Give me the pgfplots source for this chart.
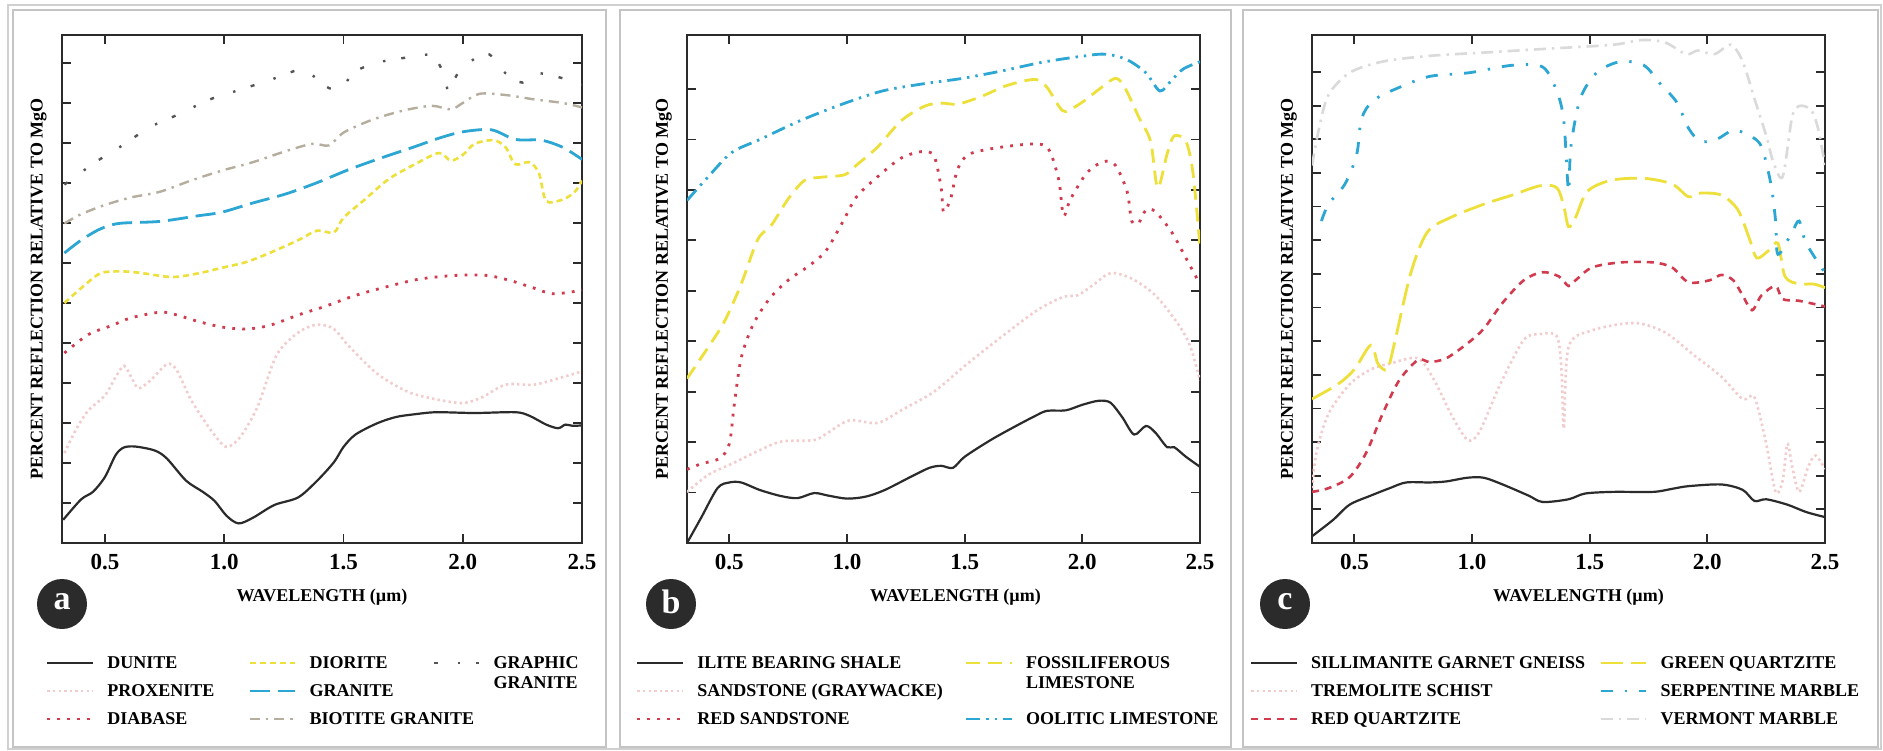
\documentclass[border=0pt]{standalone}
\usepackage{fontspec}
\setmainfont{Liberation Serif}
\usepackage{pgfplots}
\pgfplotsset{compat=1.18}
\definecolor{cblack}{HTML}{2B2B2B}
\definecolor{cpink}{HTML}{F2CCCC}
\definecolor{cred}{HTML}{D23A4E}
\definecolor{cyellow}{HTML}{EEE03A}
\definecolor{ccyan}{HTML}{2CA6D2}
\definecolor{cbeige}{HTML}{B5AE9E}
\definecolor{cgray}{HTML}{555555}
\definecolor{clight}{HTML}{DADADA}
\definecolor{cframe}{HTML}{C4C4C4}
\pgfplotsset{
  panel/.style={
    scale only axis, height=254pt,
    xmin=0.32, xmax=2.5, ymin=0,
    xtick={0.5,1.0,1.5,2.0,2.5}, xticklabels={0.5,1.0,1.5,2.0,2.5},
    yticklabel=\empty,
    tick align=inside, major tick length=4.5pt,
    tick style={line width=0.9pt, color=cblack},
    axis line style={line width=0.9pt, color=cblack},
    xticklabel style={font=\bfseries\fontsize{11.5}{12}\selectfont, anchor=center, yshift=-9.5pt},
    xlabel={WAVELENGTH (µm)},
    xlabel style={font=\bfseries\fontsize{9}{10}\selectfont, at={(axis description cs:0.5,0)}, anchor=center, yshift=-27pt},
    ylabel={PERCENT REFLECTION RELATIVE TO MgO},
    ylabel style={font=\bfseries\fontsize{9}{10}\selectfont, at={(axis description cs:-0.045,0.5)}, anchor=center},
    legend cell align=left, transpose legend, legend columns=3,
    legend image code/.code={\draw[##1] (0cm,0cm) -- (0.8cm,0cm);},
    legend style={draw=none, fill=none, inner sep=0pt, outer sep=0pt,
      at={(axis description cs:0,0)}, anchor=north west, yshift=-54.5pt,
      font=\bfseries\fontsize{9}{10}\selectfont, row sep=3pt,
      nodes={inner sep=1pt, text height=7pt, text depth=2pt},
      /tikz/every odd column/.append style={column sep=5.5pt}},
    every axis plot/.append style={smooth, tension=0.5},
  },
  blackline/.style={cblack, line width=1.1pt, solid},
  pinkdot/.style={cpink, line width=1.3pt, dash pattern=on 1.2pt off 1.6pt},
  reddot/.style={cred, line width=1.4pt, dash pattern=on 1.4pt off 3.6pt},
  reddash/.style={cred, line width=1.3pt, dash pattern=on 3.5pt off 3pt},
  yellowdash/.style={cyellow, line width=1.3pt, dash pattern=on 3pt off 2pt},
  yellowmid/.style={cyellow, line width=1.4pt, dash pattern=on 7pt off 4pt},
  yellowlong/.style={cyellow, line width=1.4pt, dash pattern=on 11pt off 4pt},
  cyanlong/.style={ccyan, line width=1.4pt, dash pattern=on 10pt off 4pt},
  cyanddd/.style={ccyan, line width=1.4pt, dash pattern=on 7pt off 3pt on 1.2pt off 3pt on 1.2pt off 3pt},
  cyandd/.style={ccyan, line width=1.4pt, dash pattern=on 6pt off 6pt on 1.2pt off 6pt},
  beigedd/.style={cbeige, line width=1.2pt, dash pattern=on 5pt off 3pt on 1.2pt off 3pt},
  graysparse/.style={cgray, line width=1.2pt, dash pattern=on 2pt off 10pt on 1.2pt off 8pt},
  lightdd/.style={clight, line width=1.3pt, dash pattern=on 6pt off 3pt on 1.2pt off 3pt},
}
\begin{document}
\begin{tikzpicture}
\useasboundingbox (0,0) rectangle (941.5pt,-375pt);
\fill[white] (0,0) rectangle (941.5pt,-375pt);
\draw[cframe!80, line width=0.6pt] (4pt,-2.5pt) rectangle (940.5pt,-374.5pt);
\draw[cframe, line width=1pt] (6.5pt,-5pt) rectangle (303pt,-373.5pt);
\draw[cframe, line width=1pt] (310pt,-5pt) rectangle (615.5pt,-373.5pt);
\draw[cframe, line width=1pt] (621.5pt,-5pt) rectangle (939pt,-373.5pt);

% ---------------- panel a
\begin{axis}[panel, width=260pt, at={(31pt,-17.5pt)}, anchor=north west,
  ymax=12.7, ytick={1,...,12},
  legend style={xshift=-8pt, /tikz/column 2/.style={column sep=16pt}, /tikz/column 4/.style={column sep=18.5pt}}]
\addplot[blackline] coordinates {(0.325,0.58)(0.40,1.09)(0.45,1.28)(0.50,1.65)(0.545,2.2)(0.58,2.39)(0.63,2.41)(0.71,2.31)(0.76,2.11)(0.84,1.56)(0.91,1.28)(0.96,1.05)(1.01,0.68)(1.06,0.49)(1.12,0.63)(1.21,0.95)(1.31,1.14)(1.39,1.56)(1.46,2.02)(1.50,2.40)(1.55,2.71)(1.64,2.99)(1.72,3.15)(1.80,3.22)(1.89,3.27)(2.05,3.25)(2.22,3.27)(2.28,3.18)(2.35,2.96)(2.40,2.87)(2.43,2.96)(2.46,2.93)(2.50,2.94)};
\addlegendentry{DUNITE}
\addplot[pinkdot] coordinates {(0.33,2.25)(0.38,2.85)(0.43,3.31)(0.50,3.69)(0.545,4.15)(0.58,4.43)(0.61,4.15)(0.64,3.87)(0.69,4.06)(0.76,4.47)(0.80,4.33)(0.86,3.59)(0.93,2.94)(0.99,2.48)(1.02,2.41)(1.07,2.67)(1.14,3.41)(1.22,4.70)(1.31,5.26)(1.39,5.46)(1.46,5.35)(1.52,4.94)(1.64,4.24)(1.77,3.78)(1.89,3.59)(2.00,3.50)(2.08,3.64)(2.18,3.96)(2.30,3.96)(2.42,4.15)(2.50,4.29)};
\addlegendentry{PROXENITE}
\addplot[reddot] coordinates {(0.33,4.75)(0.43,5.21)(0.53,5.44)(0.61,5.63)(0.73,5.77)(0.79,5.72)(0.89,5.54)(0.99,5.40)(1.09,5.35)(1.19,5.44)(1.32,5.72)(1.42,5.91)(1.55,6.19)(1.69,6.42)(1.82,6.60)(1.97,6.69)(2.10,6.69)(2.20,6.56)(2.30,6.37)(2.38,6.23)(2.50,6.32)};
\addlegendentry{DIABASE}
\addplot[yellowdash] coordinates {(0.33,6.0)(0.40,6.37)(0.48,6.74)(0.56,6.79)(0.64,6.76)(0.78,6.65)(0.89,6.74)(0.99,6.88)(1.09,7.02)(1.19,7.25)(1.31,7.57)(1.39,7.81)(1.46,7.76)(1.50,8.13)(1.59,8.59)(1.69,9.10)(1.80,9.47)(1.90,9.75)(1.95,9.56)(2.00,9.70)(2.05,9.98)(2.13,10.07)(2.18,9.89)(2.22,9.47)(2.28,9.52)(2.32,9.24)(2.35,8.55)(2.42,8.59)(2.47,8.78)(2.50,9.06)};
\addlegendentry{DIORITE}
\addplot[cyanlong] coordinates {(0.33,7.25)(0.40,7.57)(0.48,7.85)(0.56,7.99)(0.73,8.04)(0.89,8.18)(0.99,8.27)(1.12,8.50)(1.26,8.73)(1.39,9.01)(1.52,9.33)(1.65,9.61)(1.79,9.89)(1.90,10.12)(2.00,10.28)(2.12,10.33)(2.22,10.09)(2.33,10.07)(2.42,9.89)(2.50,9.59)};
\addlegendentry{GRANITE}
\addplot[beigedd] coordinates {(0.33,7.99)(0.40,8.22)(0.50,8.45)(0.61,8.64)(0.73,8.78)(0.86,9.06)(0.99,9.31)(1.12,9.52)(1.26,9.80)(1.37,9.98)(1.44,9.94)(1.50,10.26)(1.62,10.58)(1.75,10.81)(1.87,10.93)(1.95,10.84)(2.00,11.0)(2.07,11.23)(2.18,11.20)(2.30,11.09)(2.42,11.0)(2.50,10.89)};
\addlegendentry{\rlap{BIOTITE GRANITE}}
\addplot[graysparse] coordinates {(0.33,8.96)(0.46,9.52)(0.56,9.89)(0.69,10.4)(0.81,10.72)(0.94,11.09)(1.06,11.32)(1.19,11.57)(1.32,11.83)(1.39,11.6)(1.44,11.37)(1.49,11.37)(1.55,11.79)(1.65,12.02)(1.77,12.14)(1.87,12.19)(1.92,11.74)(1.94,11.32)(1.98,11.74)(2.05,12.11)(2.11,12.22)(2.18,11.74)(2.25,11.51)(2.31,11.74)(2.40,11.65)(2.50,11.46)};
\addlegendentry{\smash{\begin{tabular}[t]{@{}l@{}}GRAPHIC\\GRANITE\end{tabular}}}
\addlegendimage{empty legend}
\addlegendentry{}
\addlegendimage{empty legend}
\addlegendentry{}
\end{axis}

% ---------------- panel b
\begin{axis}[panel, width=256.5pt, at={(343.5pt,-17.5pt)}, anchor=north west,
  ymax=10.07, ytick={1,...,9},
  xlabel style={xshift=6pt},
  legend style={xshift=-25.5pt, /tikz/column 2/.style={column sep=10pt}}]
\addplot[blackline] coordinates {(0.32,0)(0.38,0.5)(0.45,1.09)(0.50,1.2)(0.55,1.2)(0.63,1.05)(0.72,0.93)(0.79,0.89)(0.86,0.99)(0.92,0.94)(1.00,0.88)(1.08,0.92)(1.16,1.05)(1.27,1.31)(1.35,1.49)(1.40,1.53)(1.45,1.49)(1.50,1.71)(1.61,2.04)(1.71,2.30)(1.80,2.52)(1.85,2.62)(1.93,2.63)(2.00,2.74)(2.07,2.82)(2.12,2.78)(2.17,2.49)(2.22,2.15)(2.27,2.32)(2.31,2.19)(2.36,1.90)(2.39,1.90)(2.44,1.71)(2.50,1.51)};
\addlegendentry{ILITE BEARING SHALE}
\addplot[pinkdot] coordinates {(0.32,1.01)(0.41,1.35)(0.51,1.57)(0.62,1.82)(0.72,2.01)(0.86,2.04)(0.92,2.19)(1.01,2.43)(1.13,2.38)(1.23,2.63)(1.37,3.0)(1.50,3.51)(1.66,4.10)(1.81,4.62)(1.92,4.88)(1.98,4.91)(2.05,5.13)(2.12,5.35)(2.21,5.24)(2.31,4.91)(2.41,4.32)(2.46,3.88)(2.50,3.22)};
\addlegendentry{SANDSTONE (GRAYWACKE)}
\addplot[reddot] coordinates {(0.32,1.46)(0.38,1.57)(0.46,1.68)(0.50,1.97)(0.52,2.71)(0.55,3.66)(0.60,4.32)(0.67,4.84)(0.75,5.21)(0.84,5.50)(0.91,5.79)(0.98,6.35)(1.04,6.86)(1.13,7.26)(1.23,7.63)(1.32,7.76)(1.37,7.67)(1.40,7.04)(1.41,6.57)(1.44,6.82)(1.47,7.41)(1.52,7.71)(1.66,7.85)(1.81,7.91)(1.86,7.78)(1.90,7.19)(1.92,6.49)(1.95,6.82)(2.02,7.34)(2.09,7.56)(2.14,7.49)(2.19,6.97)(2.21,6.38)(2.24,6.35)(2.27,6.60)(2.31,6.57)(2.38,6.16)(2.44,5.65)(2.50,5.13)};
\addlegendentry{RED SANDSTONE}
\addplot[yellowmid] coordinates {(0.32,3.26)(0.41,3.88)(0.48,4.40)(0.55,5.13)(0.62,6.01)(0.68,6.31)(0.75,6.82)(0.82,7.19)(0.89,7.25)(0.99,7.30)(1.04,7.49)(1.13,7.85)(1.23,8.37)(1.33,8.66)(1.40,8.72)(1.47,8.70)(1.57,8.85)(1.68,9.07)(1.80,9.19)(1.85,9.03)(1.90,8.66)(1.93,8.55)(2.00,8.74)(2.07,8.99)(2.14,9.21)(2.18,9.03)(2.24,8.44)(2.29,7.96)(2.32,7.04)(2.36,7.71)(2.39,8.07)(2.44,7.96)(2.47,7.34)(2.50,5.87)};
\addlegendentry{\smash{\begin{tabular}[t]{@{}l@{}}FOSSILIFEROUS\\LIMESTONE\end{tabular}}}
\addlegendimage{empty legend}
\addlegendentry{}
\addplot[cyanddd] coordinates {(0.32,6.79)(0.41,7.26)(0.51,7.74)(0.63,8.0)(0.80,8.37)(0.98,8.70)(1.15,8.96)(1.32,9.10)(1.49,9.21)(1.66,9.36)(1.83,9.53)(2.00,9.65)(2.10,9.69)(2.19,9.58)(2.27,9.32)(2.33,8.96)(2.38,9.18)(2.43,9.40)(2.50,9.54)};
\addlegendentry{OOLITIC LIMESTONE}
\end{axis}

% ---------------- panel c
\begin{axis}[panel, width=256.5pt, at={(656pt,-17.5pt)}, anchor=north west,
  ymax=15.1, ytick={1,...,14},
  xlabel style={xshift=5pt},
  legend style={xshift=-31pt, /tikz/column 2/.style={column sep=6pt}}]
\addplot[blackline] coordinates {(0.32,0.2)(0.41,0.69)(0.48,1.14)(0.57,1.41)(0.65,1.63)(0.72,1.80)(0.82,1.80)(0.89,1.83)(0.98,1.94)(1.05,1.94)(1.13,1.74)(1.24,1.41)(1.30,1.22)(1.41,1.30)(1.48,1.47)(1.60,1.52)(1.77,1.52)(1.85,1.61)(1.92,1.69)(2.06,1.74)(2.15,1.58)(2.20,1.25)(2.25,1.30)(2.34,1.14)(2.42,0.92)(2.50,0.77)};
\addlegendentry{SILLIMANITE GARNET GNEISS}
\addplot[pinkdot] coordinates {(0.32,1.63)(0.34,2.73)(0.39,3.84)(0.48,4.72)(0.57,5.16)(0.65,5.33)(0.77,5.49)(0.84,4.83)(0.91,3.84)(0.98,3.07)(1.03,3.29)(1.12,4.72)(1.22,6.04)(1.29,6.21)(1.36,6.15)(1.38,5.16)(1.39,3.40)(1.41,5.82)(1.51,6.32)(1.69,6.54)(1.82,6.26)(1.94,5.60)(2.06,4.94)(2.15,4.28)(2.20,4.33)(2.25,2.95)(2.29,1.52)(2.32,1.85)(2.34,2.95)(2.36,2.29)(2.39,1.52)(2.43,2.29)(2.46,2.6)(2.50,2.2)};
\addlegendentry{TREMOLITE SCHIST}
\addplot[reddash] coordinates {(0.32,1.52)(0.39,1.63)(0.48,1.96)(0.55,2.68)(0.62,3.84)(0.69,4.83)(0.77,5.44)(0.82,5.38)(0.89,5.49)(0.98,5.93)(1.05,6.37)(1.13,7.14)(1.22,7.81)(1.30,8.05)(1.37,7.92)(1.41,7.64)(1.44,7.81)(1.51,8.19)(1.63,8.34)(1.77,8.34)(1.85,8.19)(1.92,7.75)(2.01,7.81)(2.06,7.97)(2.11,7.81)(2.15,7.36)(2.19,6.92)(2.23,7.36)(2.29,7.64)(2.32,7.25)(2.39,7.20)(2.50,7.03)};
\addlegendentry{RED QUARTZITE}
\addplot[yellowlong] coordinates {(0.32,4.28)(0.43,4.72)(0.50,5.16)(0.57,5.88)(0.60,5.33)(0.64,5.16)(0.67,5.93)(0.74,8.03)(0.81,9.24)(0.91,9.68)(1.05,10.07)(1.17,10.34)(1.29,10.62)(1.36,10.56)(1.39,10.01)(1.41,9.40)(1.44,9.68)(1.49,10.45)(1.59,10.78)(1.73,10.84)(1.85,10.67)(1.92,10.29)(1.97,10.40)(2.06,10.34)(2.13,9.90)(2.18,9.02)(2.21,8.47)(2.26,8.69)(2.30,8.91)(2.33,7.92)(2.39,7.70)(2.45,7.70)(2.50,7.59)};
\addlegendentry{GREEN QUARTZITE}
\addplot[cyandd] coordinates {(0.36,9.57)(0.39,10.07)(0.46,10.67)(0.51,11.55)(0.53,12.60)(0.58,13.15)(0.69,13.54)(0.82,13.87)(0.99,13.98)(1.17,14.20)(1.30,14.15)(1.36,13.43)(1.39,12.55)(1.41,10.45)(1.42,11.78)(1.46,13.21)(1.53,13.98)(1.63,14.31)(1.73,14.20)(1.80,13.65)(1.87,13.10)(1.92,12.33)(1.97,11.94)(2.04,12.00)(2.11,12.27)(2.18,12.11)(2.23,11.78)(2.27,10.67)(2.29,9.57)(2.30,8.58)(2.36,9.24)(2.39,9.57)(2.42,8.91)(2.50,8.03)};
\addlegendentry{SERPENTINE MARBLE}
\addplot[lightdd] coordinates {(0.32,11.22)(0.35,12.33)(0.39,13.32)(0.48,13.98)(0.62,14.31)(0.82,14.48)(1.08,14.59)(1.34,14.70)(1.60,14.81)(1.72,14.95)(1.82,14.88)(1.91,14.53)(1.96,14.64)(2.03,14.53)(2.10,14.81)(2.15,14.31)(2.20,13.21)(2.25,12.11)(2.28,11.33)(2.32,10.89)(2.36,12.66)(2.39,12.99)(2.44,12.88)(2.47,12.33)(2.50,11.22)};
\addlegendentry{VERMONT MARBLE}
\end{axis}

\foreach \cx/\lt in {31/a, 335.5/b, 642.5/c}{
  \fill[cblack] (\cx pt,-302pt) circle (12.5pt);
  \node[text=white, font=\bfseries\fontsize{17}{17}\selectfont] at (\cx pt,-301pt) {\lt};
}
\end{tikzpicture}
\end{document}
